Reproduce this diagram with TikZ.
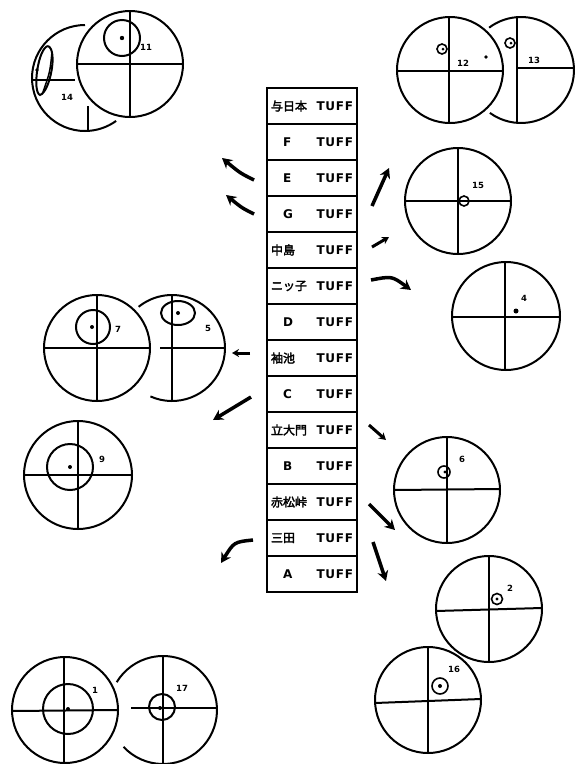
\documentclass[tikz,border=0pt]{standalone}
\usepackage{fontspec}
\newfontfamily\cjkb{Noto Sans CJK JP}[FakeBold=2.5]
\newfontfamily\latb{DejaVu Sans}[BoldFont=* Bold]
\usetikzlibrary{arrows.meta}
\newcommand\tuff{{\latb\bfseries\addfontfeature{LetterSpace=6}TUFF}}
\newcommand\ltr[1]{\hspace{12pt}{\latb\bfseries #1}}
\begin{document}
\begin{tikzpicture}[x=1pt,y=-1pt,line width=2pt,
  num/.style={font=\latb\bfseries\fontsize{8.5}{8.5}\selectfont,inner sep=0pt},
  arr/.style={line width=3.5pt,-{Stealth[length=10pt,width=11pt]}},
  sarr/.style={line width=3pt,-{Stealth[length=7pt,width=8pt]}},
  cell/.style={draw,line width=1.8pt,minimum width=90pt,minimum height=36pt,inner sep=0pt,
    font=\cjkb\fontsize{12}{12}\selectfont},
  spot/.style={line width=1.6pt}]
\useasboundingbox (0,0) rectangle (578,764);
% central column
\foreach \i/\p in {0/与日本,1/{\ltr{F}},2/{\ltr{E}},3/{\ltr{G}},4/中島,5/ニッ子,6/{\ltr{D}},
  7/袖池,8/{\ltr{C}},9/立大門,10/{\ltr{B}},11/赤松峠,12/三田,13/{\ltr{A}}}
  \node[cell] (c\i) at (312,{106+36*\i}) {\makebox[82pt]{\p\hfill\tuff}};
% circle 11 and 14
\draw (130,64) circle (53); \draw (77,64) -- (183,64); \draw (130,11) -- (130,117);
\draw (122,38) circle (18); \fill (122,38) circle (2.2);
\node[num] (n11) at (146,47) {11};
\draw (85,78) ++(-90:53) arc[start angle=-90,end angle=-306,radius=53];
\draw (33,80) -- (75,80); \draw (88,106) -- (88,131);
\draw (48,46) .. controls (58,50) and (50,92) .. (40,95) .. controls (32,92) and (38,48) .. (48,46);
\draw[line width=1.5pt] (52,52) .. controls (50,72) .. (43,92);
\fill (37,70) circle (1.8);
\node[num] (n14) at (67,97) {14};
% circle 12 and 13
\draw (450,70) circle (53); \draw (397,71) -- (503,71); \draw (449,17) -- (449,123);
\draw[spot] (442,49) circle (5); \fill (443,49) circle (1.5);
\node[num] (n12) at (463,63) {12}; \fill (486,57) circle (1.8);
\draw (521,70) ++(-234:53) arc[start angle=-234,end angle=-487,radius=53];
\draw (517,17) -- (517,123); \draw (517,68) -- (574,68);
\draw[spot] (510,43) circle (5); \fill (511,43) circle (1.5);
\node[num] (n13) at (534,60) {13};
% circle 15
\draw (458,201) circle (53); \draw (405,201) -- (511,201); \draw (458,148) -- (458,254);
\draw[spot] (464,201) circle (5);
\node[num] (n15) at (478,185) {15};
% circle 4
\draw (506,316) circle (54); \draw (452,317) -- (560,317); \draw (505,262) -- (505,370);
\fill (516,311) circle (2.5);
\node[num] (n4) at (524,298) {4};
% circle 7 and 5
\draw (97,348) circle (53); \draw (44,348) -- (150,348); \draw (97,295) -- (97,401);
\draw (93,327) circle (17); \fill (92,327) circle (2);
\node[num] (n7) at (118,329) {7};
\draw (172,348) ++(-246:53) arc[start angle=-246,end angle=-489,radius=53];
\draw (172,295) -- (172,401); \draw (160,348) -- (225,348);
\draw (178,313) ellipse [x radius=17,y radius=12]; \fill (178,313) circle (2);
\node[num] (n5) at (208,328) {5};
% circle 9
\draw (78,475) circle (54); \draw (24,475) -- (132,475); \draw (78,421) -- (78,529);
\draw (70,467) circle (23); \fill (70,467) circle (2);
\node[num] (n9) at (102,459) {9};
% circle 6
\draw (447,490) circle (53); \draw (394,490) -- (500,489); \draw (447,437) -- (447,543);
\draw[spot] (444,472) circle (6); \fill (445,472) circle (1.6);
\node[num] (n6) at (462,459) {6};
% circle 2
\draw (489,609) circle (53); \draw (436,611) -- (542,608); \draw (489,556) -- (489,662);
\draw[spot] (497,599) circle (5.5); \fill (497,599) circle (1.6);
\node[num] (n2) at (510,588) {2};
% circle 16
\draw (428,700) circle (53); \draw (375,703) -- (481,699); \draw (428,647) -- (428,753);
\draw[spot] (440,686) circle (8); \fill (440,686) circle (2);
\node[num] (n16) at (454,669) {16};
% circle 1 and 17
\draw (65,710) circle (53); \draw (12,711) -- (118,710); \draw (64,657) -- (64,763);
\draw (68,709) circle (25); \fill (68,709) circle (2);
\node[num] (n1) at (95,690) {1};
\draw (163,710) ++(-223:54) arc[start angle=-223,end angle=-509,radius=54];
\draw (163,656) -- (163,764); \draw (131,708) -- (217,708);
\draw (162,707) circle (13); \fill (160,708) circle (2);
\node[num] (n17) at (182,688) {17};
% arrows
\draw[arr] (254,180) .. controls (240,173) .. (222,158);
\draw[arr] (254,214) .. controls (242,208) .. (226,195);
\draw[arr] (372,206) -- (389,168);
\draw[sarr] (372,247) -- (389,237);
\draw[arr] (371,280) .. controls (392,276) .. (411,290);
\draw[sarr] (250,353) -- (232,353);
\draw[arr] (251,397) -- (213,420);
\draw[sarr] (369,425) -- (386,440);
\draw[arr] (369,504) -- (395,530);
\draw[arr] (373,542) -- (386,581);
\draw[arr] (253,540) .. controls (234,542) .. (221,563);
\end{tikzpicture}
\end{document}
